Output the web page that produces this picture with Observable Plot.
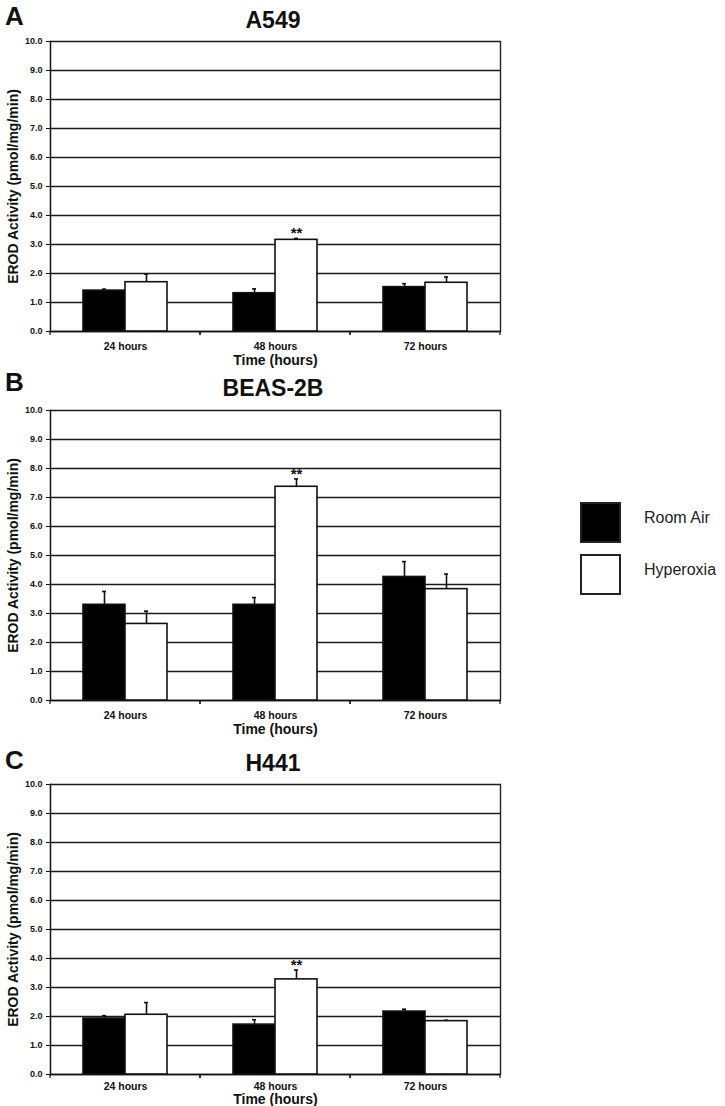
<!DOCTYPE html>
<html><head><meta charset="utf-8">
<script src="https://cdn.jsdelivr.net/npm/d3@7"></script>
<script src="https://cdn.jsdelivr.net/npm/@observablehq/plot@0.6"></script>
<style>
body{margin:0;background:#fff;width:725px;height:1106px;overflow:hidden;position:relative;font-family:"Liberation Sans",Arial,sans-serif;color:#111;}
.abs{position:absolute;}
.title{font-weight:bold;font-size:23px;transform:translate(-50%,-50%);white-space:nowrap;line-height:1;}
.letter{font-weight:bold;font-size:26px;transform:translate(0,-50%);line-height:1;}
.sw{position:absolute;width:37px;height:37px;border:2px solid #222;}
.lt{position:absolute;font-size:16px;transform:translate(0,-50%);white-space:nowrap;line-height:1;color:#222;}
</style></head><body>
<script>
// ---- data ----
const times = ["24 hours", "48 hours", "72 hours"];
const conditions = ["Room Air", "Hyperoxia"];
const panels = ["A549", "BEAS-2B", "H441"];
const letters = ["A", "B", "C"];
const yTicks = [0, 1, 2, 3, 4, 5, 6, 7, 8, 9, 10];

const a549RoomAir = [1.41, 1.32, 1.53];
const a549RoomAirErr = [0.05, 0.15, 0.12];
const a549Hyperoxia = [1.70, 3.16, 1.68];
const a549HyperoxiaErr = [0.28, 0.05, 0.20];

const beasRoomAir = [3.30, 3.30, 4.26];
const beasRoomAirErr = [0.46, 0.25, 0.53];
const beasHyperoxia = [2.64, 7.37, 3.84];
const beasHyperoxiaErr = [0.44, 0.27, 0.52];

const h441RoomAir = [1.93, 1.72, 2.17];
const h441RoomAirErr = [0.10, 0.17, 0.08];
const h441Hyperoxia = [2.06, 3.28, 1.84];
const h441HyperoxiaErr = [0.42, 0.32, 0.03];

// significance marks: [panel, time, condition]
const significance = [
  ["A549", "48 hours", "Hyperoxia"],
  ["BEAS-2B", "48 hours", "Hyperoxia"],
  ["H441", "48 hours", "Hyperoxia"]
];

const series = {
  "A549": [[a549RoomAir, a549RoomAirErr], [a549Hyperoxia, a549HyperoxiaErr]],
  "BEAS-2B": [[beasRoomAir, beasRoomAirErr], [beasHyperoxia, beasHyperoxiaErr]],
  "H441": [[h441RoomAir, h441RoomAirErr], [h441Hyperoxia, h441HyperoxiaErr]]
};

function rowsFor(panel) {
  const rows = [];
  conditions.forEach((c, ci) => {
    const [means, errs] = series[panel][ci];
    times.forEach((t, ti) => rows.push({time: t, condition: c, mean: means[ti], upper: means[ti] + errs[ti]}));
  });
  return rows;
}

// ---- layout ----
const panelTops = [0, 369, 743];
const titleY = [20, 388, 763];
const letterY = [16, 382, 760];
const xLabelDy = [29, 29, 25];
const xTickPad = [11, 11, 8];
const FONT = '"Liberation Sans", Arial, sans-serif';

function boundaryTicks(index, scales, values, dims) {
  const g = d3.create("svg:g");
  const y0 = scales.y(0);
  const xl = dims.marginLeft, xr = dims.width - dims.marginRight;
  for (const x of [xl, xr]) {
    g.append("line").attr("x1", x).attr("x2", x).attr("y1", y0).attr("y2", y0 + 4)
      .attr("stroke", "#111").attr("stroke-width", 1.2);
  }
  return g.node();
}

panels.forEach((panel, pi) => {
  const rows = rowsFor(panel);
  const sig = rows.filter(r => significance.some(s => s[0] === panel && s[1] === r.time && s[2] === r.condition));
  const chart = Plot.plot({
    width: 510,
    height: 370,
    marginLeft: 49,
    marginRight: 9,
    marginTop: 41,
    marginBottom: 39,
    style: {fontFamily: FONT, color: "#111", background: "white", overflow: "visible"},
    fx: {domain: times, padding: 0, axis: null},
    x: {domain: conditions, paddingInner: 0, paddingOuter: 0.75, axis: null},
    y: {domain: [0, 10], axis: null},
    color: {domain: conditions, range: ["#000", "#fff"]},
    marks: [
      Plot.ruleY(yTicks, {stroke: "#1a1a1a", strokeWidth: 1.5}),
      Plot.ruleY([0], {stroke: "#111", strokeWidth: 1.5}),
      Plot.frame({anchor: "left", facetAnchor: "left", stroke: "#111", strokeWidth: 1.5}),
      Plot.frame({anchor: "right", facetAnchor: "right", stroke: "#222", strokeWidth: 1.4}),
      Plot.ruleY([0], {render: boundaryTicks}),
      Plot.barY(rows, {fx: "time", x: "condition", y: "mean", fill: "condition", stroke: "#111", strokeWidth: 1.6}),
      Plot.ruleX(rows, {fx: "time", x: "condition", y1: "mean", y2: "upper", stroke: "#111", strokeWidth: 1.6}),
      Plot.tickY(rows, {fx: "time", x: "condition", y: "upper", stroke: "#111", strokeWidth: 1.6, insetLeft: 19, insetRight: 19}),
      Plot.text(sig, {fx: "time", x: "condition", y: "upper", text: () => "**", fontSize: 15, fontWeight: "bold", lineAnchor: "bottom", dy: 0, fill: "#111"}),
      Plot.axisY({ticks: yTicks, tickFormat: d => d.toFixed(1), tickSize: 4, tickPadding: 4, fontSize: 9, fontWeight: "bold", label: null, stroke: "#111"}),
      Plot.axisFx({domain: times, anchor: "bottom", tickSize: 0, tickPadding: xTickPad[pi], fontSize: 10.5, fontWeight: "bold", label: null}),
      Plot.text(["Time (hours)"], {facet: "super", frameAnchor: "bottom", dy: xLabelDy[pi], fontSize: 14, fontWeight: "bold", lineAnchor: "middle", textAnchor: "middle", fill: "#111"}),
      Plot.text(["EROD Activity (pmol/mg/min)"], {facet: "super", frameAnchor: "left", dx: -37, rotate: -90, fontSize: 14, fontWeight: "bold", lineAnchor: "middle", textAnchor: "middle", fill: "#111"})
    ]
  });
  chart.style.position = "absolute";
  chart.style.left = "0px";
  chart.style.top = panelTops[pi] + "px";
  document.body.appendChild(chart);

  const t = document.createElement("div");
  t.className = "abs title";
  t.style.left = "273px";
  t.style.top = titleY[pi] + "px";
  t.textContent = panel;
  document.body.appendChild(t);

  const l = document.createElement("div");
  l.className = "abs letter";
  l.style.left = "5px";
  l.style.top = letterY[pi] + "px";
  l.textContent = letters[pi];
  document.body.appendChild(l);
});

// ---- legend ----
const legendFill = ["#000", "#fff"];
const legendTops = [502, 554];
conditions.forEach((c, i) => {
  const s = document.createElement("div");
  s.className = "sw";
  s.style.left = "580px";
  s.style.top = legendTops[i] + "px";
  s.style.background = legendFill[i];
  document.body.appendChild(s);
  const tx = document.createElement("div");
  tx.className = "lt";
  tx.style.left = "644px";
  tx.style.top = (legendTops[i] + 16) + "px";
  tx.textContent = c;
  document.body.appendChild(tx);
});
</script>
</body></html>
